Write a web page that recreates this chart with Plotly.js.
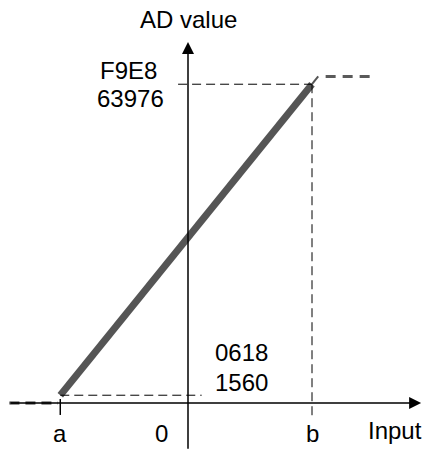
<!DOCTYPE html>
<html><head><meta charset="utf-8">
<script src="https://cdn.plot.ly/plotly-3.0.1.min.js"></script>
<style>html,body{margin:0;padding:0;background:#fff}#chart{width:427px;height:454px}</style>
</head><body><div id="chart"></div>
<script>
// Data (input in arbitrary units where b = 1, AD values in counts)
const inputNames = ['a', '0', 'b'];
const inputValues = [-1.03, 0, 1.0];
const adHex = ['0618', 'F9E8'];
const adDec = [1560, 63976];
const satInput = [1.05, 1.11, 1.49];   // end of ramp, saturation dashed start/end
const satValue = 65535;
const underInput = [-1.44, -1.05];     // under-range dashed segment
const underValue = 0;

const xA = inputValues[0], xB = inputValues[2];
const font = {family: 'Liberation Sans, Arial, sans-serif', size: 24, color: '#000'};

const traces = [
  {x: [xA, xB], y: [adDec[0], adDec[1]], mode: 'lines', line: {color: '#555555', width: 7}, hoverinfo: 'skip'},
  {x: [xB, satInput[0]], y: [adDec[1], satValue], mode: 'lines', line: {color: '#555555', width: 2}, hoverinfo: 'skip'},
  {x: [satInput[1], satInput[2]], y: [satValue, satValue], mode: 'lines', line: {color: '#5a5a5a', width: 3, dash: '10px,7px'}, hoverinfo: 'skip'},
  {x: underInput, y: [underValue, underValue], mode: 'lines', line: {color: '#333333', width: 3, dash: '10px,6px'}, hoverinfo: 'skip'}
];

const dash = {color: '#000', width: 1, dash: '9px,5px'};
const shapes = [
  {type: 'line', xref: 'x', yref: 'y', x0: xA, x1: 0.11, y0: adDec[0], y1: adDec[0], line: dash},
  {type: 'line', xref: 'x', yref: 'y', x0: -0.08, x1: xB, y0: adDec[1], y1: adDec[1], line: dash},
  {type: 'line', xref: 'x', yref: 'y', x0: xB, x1: xB, y0: adDec[1], y1: -2600, line: dash},
  {type: 'line', xref: 'x', yref: 'y', x0: xA, x1: xA, y0: 800, y1: -2400, line: {color: '#000', width: 1.5}}
];

const annotations = [
  {x: 1.88, y: 0, ax: -1.44, ay: 0, axref: 'x', ayref: 'y', xref: 'x', yref: 'y', text: '', showarrow: true,
   arrowhead: 2, arrowsize: 1.6, arrowwidth: 1.5, arrowcolor: '#000', standoff: 0, startstandoff: 0},
  {x: 0, y: 72450, ax: 0, ay: -9500, axref: 'x', ayref: 'y', xref: 'x', yref: 'y', text: '', showarrow: true,
   arrowhead: 2, arrowsize: 1.6, arrowwidth: 1.5, arrowcolor: '#000', standoff: 0, startstandoff: 0},
  {x: 0, y: 1, xref: 'x', yref: 'paper', yanchor: 'top', xanchor: 'center', yshift: -4, text: 'AD value', showarrow: false, font: font},
  {x: 1.9, y: -5500, xref: 'x', yref: 'y', xanchor: 'right', text: 'Input', showarrow: false, font: font}
];
inputNames.forEach((n, i) => {
  annotations.push({x: inputValues[i] + (n === '0' ? -0.215 : 0), y: -6200, xref: 'x', yref: 'y', text: n, showarrow: false, font: font});
});
annotations.push({x: -0.48, y: 66830, xref: 'x', yref: 'y', text: adHex[1], showarrow: false, font: font});
annotations.push({x: -0.46, y: 61210, xref: 'x', yref: 'y', text: String(adDec[1]), showarrow: false, font: font});
annotations.push({x: 0.43, y: 10235, xref: 'x', yref: 'y', text: adHex[0], showarrow: false, font: font});
annotations.push({x: 0.43, y: 4215, xref: 'x', yref: 'y', text: String(adDec[0]), showarrow: false, font: font});

const layout = {
  width: 427, height: 454,
  margin: {l: 0, r: 0, t: 0, b: 0},
  paper_bgcolor: '#fff', plot_bgcolor: '#fff',
  showlegend: false,
  xaxis: {range: [-1.5161, 1.9274], visible: false, fixedrange: true},
  yaxis: {range: [-10235, 80880], visible: false, fixedrange: true},
  shapes: shapes,
  annotations: annotations
};
Plotly.newPlot('chart', traces, layout, {staticPlot: true, displayModeBar: false});
</script></body></html>
